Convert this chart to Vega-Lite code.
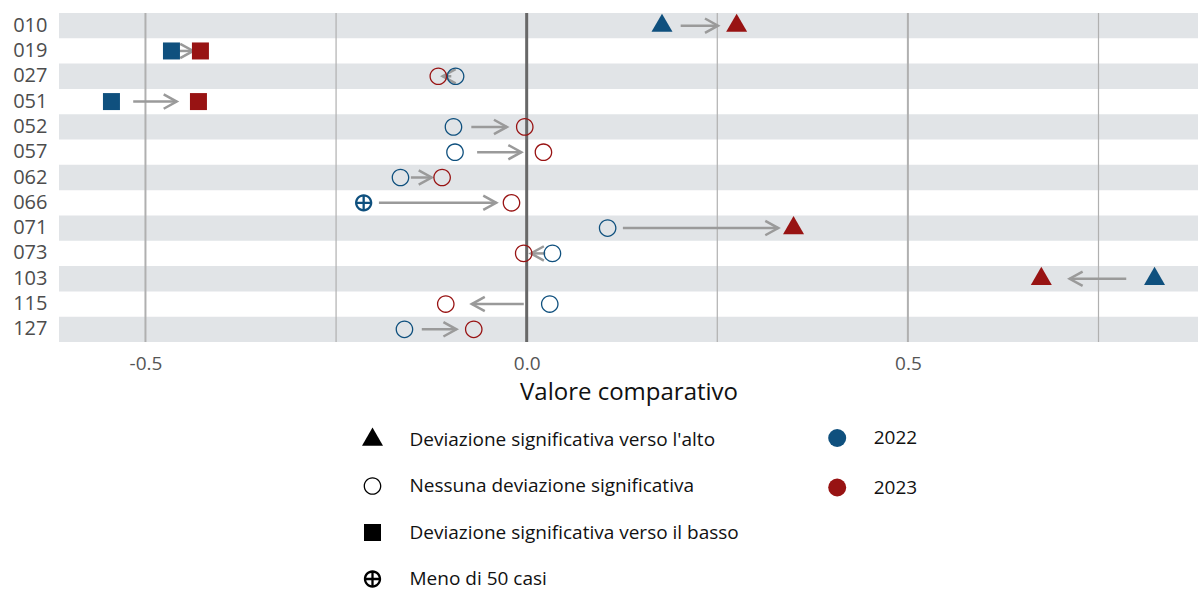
{
  "$schema": "https://vega.github.io/schema/vega-lite/v6.json",
  "width": 1139,
  "height": 329,
  "autosize": {"type": "none"},
  "padding": {"left": 59, "top": 13, "right": 0, "bottom": 248},
  "background": "white",
  "config": {
    "view": {"stroke": null},
    "font": "Open Sans",
    "axisX": {
      "grid": false, "ticks": false, "domain": false,
      "labelFontSize": 19, "labelColor": "#555555", "labelPadding": 12,
      "titleFontSize": 24, "titleFontWeight": "normal", "titleColor": "#111111", "titlePadding": 7
    },
    "axisY": {"grid": false, "ticks": false, "domain": false, "labelFontSize": 20, "labelColor": "#4d4d4d", "labelPadding": 12}
  },
  "datasets": {
    "pts": [
      {"id": "010", "year": "2022", "value": 0.1775, "sig": "up"},
      {"id": "010", "year": "2023", "value": 0.2754, "sig": "up"},
      {"id": "019", "year": "2022", "value": -0.4659, "sig": "down"},
      {"id": "019", "year": "2023", "value": -0.4279, "sig": "down"},
      {"id": "027", "year": "2022", "value": -0.0932, "sig": "none"},
      {"id": "027", "year": "2023", "value": -0.1159, "sig": "none"},
      {"id": "051", "year": "2022", "value": -0.5446, "sig": "down"},
      {"id": "051", "year": "2023", "value": -0.4305, "sig": "down"},
      {"id": "052", "year": "2022", "value": -0.096, "sig": "none"},
      {"id": "052", "year": "2023", "value": -0.0025, "sig": "none"},
      {"id": "057", "year": "2022", "value": -0.094, "sig": "none"},
      {"id": "057", "year": "2023", "value": 0.022, "sig": "none"},
      {"id": "062", "year": "2022", "value": -0.1655, "sig": "none"},
      {"id": "062", "year": "2023", "value": -0.1109, "sig": "none"},
      {"id": "066", "year": "2022", "value": -0.2138, "sig": "few"},
      {"id": "066", "year": "2023", "value": -0.0199, "sig": "none"},
      {"id": "071", "year": "2022", "value": 0.1062, "sig": "none"},
      {"id": "071", "year": "2023", "value": 0.35, "sig": "up"},
      {"id": "073", "year": "2022", "value": 0.0338, "sig": "none"},
      {"id": "073", "year": "2023", "value": -0.0039, "sig": "none"},
      {"id": "103", "year": "2022", "value": 0.8235, "sig": "up"},
      {"id": "103", "year": "2023", "value": 0.675, "sig": "up"},
      {"id": "115", "year": "2022", "value": 0.0303, "sig": "none"},
      {"id": "115", "year": "2023", "value": -0.1061, "sig": "none"},
      {"id": "127", "year": "2022", "value": -0.1603, "sig": "none"},
      {"id": "127", "year": "2023", "value": -0.0694, "sig": "none"}
    ],
    "stripes": [
      {"id": "010"}, {"id": "027"}, {"id": "052"}, {"id": "062"}, {"id": "071"}, {"id": "103"}, {"id": "127"}
    ],
    "grid": [
      {"g": -0.5}, {"g": -0.25}, {"g": 0}, {"g": 0.25}, {"g": 0.5}, {"g": 0.75}
    ]
  },
  "layer": [
    {
      "data": {"name": "stripes"},
      "mark": {"type": "rect", "color": "#e1e4e7"},
      "encoding": {
        "x": {
          "datum": -0.6134, "type": "quantitative",
          "scale": {"domain": [-0.6134, 0.8805], "nice": false, "zero": false},
          "axis": {"values": [-0.5, 0, 0.5], "labelExpr": "replace(format(datum.value, '.1f'), '\u2212', '-')", "title": "Valore comparativo"}
        },
        "x2": {"datum": 0.8805},
        "y": {
          "field": "id", "type": "nominal",
          "scale": {"domain": ["010","019","027","051","052","057","062","066","071","073","103","115","127"], "paddingInner": 0, "paddingOuter": 0},
          "axis": {"title": null}
        }
      }
    },
    {
      "data": {"name": "grid"},
      "mark": {"type": "rule"},
      "encoding": {
        "x": {
          "field": "g", "type": "quantitative",
          "scale": {"domain": [-0.6134, 0.8805], "nice": false, "zero": false},
          "axis": {"values": [-0.5, 0, 0.5], "labelExpr": "replace(format(datum.value, '.1f'), '\u2212', '-')", "title": "Valore comparativo"}
        },
        "color": {"condition": {"test": "datum.g == 0", "value": "#686868"}, "value": "#b0b0b0"},
        "strokeWidth": {"condition": [{"test": "datum.g == 0", "value": 3}, {"test": "abs(datum.g) == 0.5", "value": 2}], "value": 1.2}
      }
    },
    {
      "data": {"name": "pts"},
      "transform": [
        {"pivot": "year", "value": "value", "groupby": ["id"]},
        {"calculate": "datum['2023'] - datum['2022']", "as": "d"},
        {"calculate": "abs(datum.d) > 0.18 ? 0.02 : 0.25 * abs(datum.d)", "as": "gap"},
        {"calculate": "datum.d > 0 ? 1 : -1", "as": "s"},
        {"calculate": "datum['2022'] + datum.s * datum.gap", "as": "a0"},
        {"calculate": "datum['2023'] - datum.s * datum.gap", "as": "a1"},
        {"calculate": "datum.d > 0 ? 0 : 180", "as": "ang"}
      ],
      "layer": [
        {
          "mark": {"type": "rule", "color": "#9a9a9a", "strokeWidth": 2.5},
          "encoding": {
            "x": {
              "field": "a0", "type": "quantitative",
              "scale": {"domain": [-0.6134, 0.8805], "nice": false, "zero": false},
              "axis": {"values": [-0.5, 0, 0.5], "labelExpr": "replace(format(datum.value, '.1f'), '\u2212', '-')", "title": "Valore comparativo"}
            },
            "x2": {"field": "a1"},
            "y": {
              "field": "id", "type": "nominal",
              "scale": {"domain": ["010","019","027","051","052","057","062","066","071","073","103","115","127"], "paddingInner": 0, "paddingOuter": 0},
              "axis": {"title": null}
            }
          }
        },
        {
          "mark": {"type": "point", "shape": "M-2,-1.1L0,0L-2,1.1", "size": 169, "filled": false, "stroke": "#9a9a9a", "strokeWidth": 2.5, "opacity": 1},
          "encoding": {
            "x": {
              "field": "a1", "type": "quantitative",
              "scale": {"domain": [-0.6134, 0.8805], "nice": false, "zero": false},
              "axis": {"values": [-0.5, 0, 0.5], "labelExpr": "replace(format(datum.value, '.1f'), '\u2212', '-')", "title": "Valore comparativo"}
            },
            "y": {
              "field": "id", "type": "nominal",
              "scale": {"domain": ["010","019","027","051","052","057","062","066","071","073","103","115","127"], "paddingInner": 0, "paddingOuter": 0},
              "axis": {"title": null}
            },
            "angle": {"field": "ang", "type": "quantitative", "scale": null}
          }
        }
      ]
    },
    {
      "data": {"name": "pts"},
      "mark": {"type": "point", "size": 400, "opacity": 1, "filled": true, "strokeWidth": 0},
      "encoding": {
        "x": {
          "field": "value", "type": "quantitative",
          "scale": {"domain": [-0.6134, 0.8805], "nice": false, "zero": false},
          "axis": {"values": [-0.5, 0, 0.5], "labelExpr": "replace(format(datum.value, '.1f'), '\u2212', '-')", "title": "Valore comparativo"}
        },
        "y": {
          "field": "id", "type": "nominal",
          "scale": {"domain": ["010","019","027","051","052","057","062","066","071","073","103","115","127"], "paddingInner": 0, "paddingOuter": 0},
          "axis": {"title": null}
        },
        "shape": {
          "field": "sig", "type": "nominal",
          "scale": {
            "domain": ["up", "none", "down", "few"],
            "range": [
              "M0,-1.2L1.05,0.62L-1.05,0.62Z",
              "M0.885,0A0.885,0.885,0,1,1,-0.885,0A0.885,0.885,0,1,1,0.885,0ZM0.755,0A0.755,0.755,0,1,0,-0.755,0A0.755,0.755,0,1,0,0.755,0Z",
              "M-0.85,-0.85L0.85,-0.85L0.85,0.85L-0.85,0.85Z",
              "M0.865,0A0.865,0.865,0,1,1,-0.865,0A0.865,0.865,0,1,1,0.865,0ZM0.635,0A0.635,0.635,0,1,0,-0.635,0A0.635,0.635,0,1,0,0.635,0ZM-0.65,-0.115L0.65,-0.115L0.65,0.115L-0.65,0.115ZM-0.115,-0.65L0.115,-0.65L0.115,0.65L-0.115,0.65Z"
            ]
          },
          "legend": {
            "orient": "none", "legendX": 303.5, "legendY": 416.5, "title": null, "direction": "vertical",
            "padding": 0, "symbolSize": 400, "symbolFillColor": "#000000", "symbolStrokeWidth": 0, "symbolOpacity": 1,
            "labelFontSize": 19, "labelColor": "#111111",
            "labelOffset": 27, "rowPadding": 26.5, "labelLimit": 600,
            "labelExpr": "datum.value == 'up' ? \"Deviazione significativa verso l'alto\" : datum.value == 'none' ? 'Nessuna deviazione significativa' : datum.value == 'down' ? 'Deviazione significativa verso il basso' : 'Meno di 50 casi'"
          }
        },
        "color": {
          "field": "year", "type": "nominal",
          "scale": {"domain": ["2022", "2023"], "range": ["#0f507e", "#981313"]},
          "legend": {
            "orient": "none", "legendX": 768.7, "legendY": 415.5, "title": null, "direction": "vertical",
            "padding": 0, "symbolType": "circle", "symbolSize": 324, "symbolStrokeWidth": 0, "symbolOpacity": 1,
            "labelFontSize": 19, "labelColor": "#111111", "labelOffset": 27, "rowPadding": 29.5
          }
        }
      }
    }
  ]
}
